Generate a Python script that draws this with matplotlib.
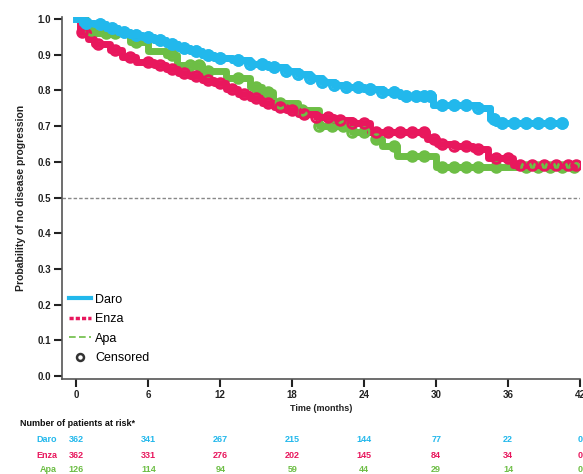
import numpy as np
import matplotlib
matplotlib.use('Agg')
import matplotlib.pyplot as plt
from matplotlib.lines import Line2D

plt.rcParams['font.family'] = ['Liberation Sans', 'DejaVu Sans']

# Kaplan-Meier step data
daro_t = [0, 0.5, 1.5, 2.5, 3.5, 4.5, 5.5, 6.5, 7.5, 8.5, 9.5, 10.5, 11.5, 13, 14.5, 16, 17.5,
          18.5, 19.5, 20.5, 21.5, 22.5, 24, 25.5, 27, 29.7, 33.5, 34.5, 35.0, 40.6]
daro_s = [1.0, 0.99, 0.985, 0.975, 0.965, 0.955, 0.95, 0.94, 0.93, 0.92, 0.91, 0.90, 0.89, 0.885,
          0.875, 0.865, 0.855, 0.845, 0.835, 0.825, 0.815, 0.81, 0.805, 0.795, 0.785, 0.76, 0.75,
          0.72, 0.71, 0.71]

enza_t = [0, 0.3, 1, 1.5, 2.8, 3.8, 5, 6.5, 7.5, 8.5, 9.5, 10.5, 11.5, 12.5, 13.5, 14.5, 15.5,
          16.5, 17.5, 18.5, 20, 21.5, 23, 24.5, 29.2, 30.1, 31.5, 33.1, 34.3, 36.4, 41.8]
enza_s = [1.0, 0.965, 0.945, 0.93, 0.913, 0.895, 0.88, 0.87, 0.86, 0.85, 0.84, 0.83, 0.82, 0.805,
          0.79, 0.78, 0.765, 0.755, 0.745, 0.735, 0.725, 0.717, 0.71, 0.685, 0.665, 0.65, 0.645,
          0.635, 0.61, 0.59, 0.59]

apa_t = [0, 0.8, 1.5, 4.5, 6, 7.5, 8.4, 10.5, 12.5, 14.5, 15.5, 16.4, 18.5, 20.2, 23, 24.8,
         25.5, 26.7, 30.0, 41.8]
apa_s = [1.0, 0.97, 0.96, 0.935, 0.91, 0.90, 0.87, 0.855, 0.835, 0.81, 0.795, 0.765, 0.745,
         0.70, 0.685, 0.665, 0.645, 0.615, 0.586, 0.586]

# censoring times (months)
daro_cens = [0.8, 2.0, 3.0, 4.0, 5.0, 6.0, 7.0, 8.0, 9.0, 10.0, 11.0, 12.0, 13.5, 14.5, 15.5,
             16.5, 17.5, 18.5, 19.5, 20.5, 21.5, 22.5, 23.5, 24.5, 25.5, 26.5, 27.5, 28.3,
             29.0, 29.5, 30.5, 31.5, 32.5, 33.5, 34.8, 35.5, 36.5, 37.5, 38.5, 39.5, 40.5]
enza_cens = [0.5, 1.8, 3.2, 4.5, 6.0, 7.0, 8.0, 9.0, 10.0, 11.0, 12.0, 13.0, 14.0, 15.0, 16.0,
             17.0, 18.0, 19.0, 20.0, 21.0, 22.0, 23.0, 24.0, 25.0, 26.0, 27.0, 28.0, 29.0,
             29.8, 30.5, 31.5, 32.5, 33.5, 35.0, 36.0, 37.0, 38.0, 39.0, 40.0, 41.0, 41.7]
apa_cens = [1.2, 2.5, 3.2, 5.0, 8.0, 9.5, 10.2, 11.0, 13.5, 15.0, 16.0, 17.0, 18.8, 20.2,
            21.3, 22.2, 23.0, 24.0, 25.0, 26.5, 28.0, 29.0, 30.5, 31.5, 32.5, 33.5, 35.0,
            37.5, 38.5, 39.5, 40.5, 41.5]

# number at risk
risk_times = [0, 6, 12, 18, 24, 30, 36, 42]
daro_risk = [362, 341, 267, 215, 144, 77, 22, 0]
enza_risk = [362, 331, 276, 202, 145, 84, 34, 0]
apa_risk = [126, 114, 94, 59, 44, 29, 14, 0]

blue = '#22B8EC'
red = '#E8175D'
green = '#6DBE45'

fig = plt.figure(figsize=(5.83, 4.74), dpi=100)
ax = fig.add_axes([0.1063, 0.2004, 0.8887, 0.7636])


def step_at(t, ts, ss):
    idx = np.searchsorted(ts, t, side='right') - 1
    return np.asarray(ss)[idx]


arms = [(daro_t, daro_s, daro_cens, blue),
        (enza_t, enza_s, enza_cens, red),
        (apa_t, apa_s, apa_cens, green)]
for ts, ss, cens, col in arms[::-1]:
    ax.step(ts, ss, where='post', color=col, lw=5, solid_capstyle='butt', zorder=3)
    cy = step_at(cens, ts, ss)
    ax.plot(cens, cy, 'o', ms=7, mfc='none', mec=col, mew=2, zorder=4)
# redraw daro on top
ax.step(daro_t, daro_s, where='post', color=blue, lw=5, zorder=5)
ax.plot(daro_cens, step_at(daro_cens, daro_t, daro_s), 'o', ms=7, mfc='none',
        mec=blue, mew=2, zorder=5)

ax.axhline(0.5, color='#888888', lw=1, ls=(0, (2.5, 1.5)), zorder=1)

ax.set_xlim(-1.2, 42)
ax.set_ylim(-0.0084, 1.0056)
ax.set_yticks(np.arange(0, 1.01, 0.1))
ax.set_yticklabels([f'{v:.1f}' for v in np.arange(0, 1.01, 0.1)])
ax.set_xticks(risk_times)
for s in ['top', 'right']:
    ax.spines[s].set_visible(False)
for s in ['left', 'bottom']:
    ax.spines[s].set_color('#555555')
    ax.spines[s].set_linewidth(1.2)
ax.tick_params(axis='both', length=6, width=1.5, color='#222222', labelsize=7, pad=2)
for lab in ax.get_xticklabels() + ax.get_yticklabels():
    lab.set_fontweight('bold')
    lab.set_color('#222222')

ax.set_xlabel('Time (months)', fontsize=6.5, fontweight='bold', labelpad=3, color='#222222')
ax.set_ylabel('Probability of no disease progression', fontsize=7.5, fontweight='bold',
              labelpad=8, color='#222222')

handles = [Line2D([], [], color=blue, lw=3),
           Line2D([], [], color=red, lw=2.5, ls=(0, (1.2, 0.6))),
           Line2D([], [], color=green, lw=1.2, ls=(0, (4, 2))),
           Line2D([], [], color='#333333', marker='o', ls='none', ms=5, mfc='none', mew=1.8)]
ax.legend(handles, ['Daro', 'Enza', 'Apa', 'Censored'], loc='lower left',
          bbox_to_anchor=(0.0, 0.02), frameon=False, fontsize=9, handlelength=1.7,
          handletextpad=0.35, labelspacing=0.6, borderaxespad=0.2)

# number at risk table
fig.text(20 / 583, 1 - 423 / 474, 'Number of patients at risk*', fontsize=6.5,
         fontweight='bold', ha='left', va='center', color='#111111')
rows = [('Daro', daro_risk, blue, 440), ('Enza', enza_risk, red, 455), ('Apa', apa_risk, green, 470)]
trans = matplotlib.transforms.blended_transform_factory(ax.transData, fig.transFigure)
for name, vals, col, ypix in rows:
    yf = 1 - ypix / 474
    fig.text(57 / 583, yf, name, fontsize=6.5, ha='right', va='center', color=col,
             fontweight='bold')
    for t, v in zip(risk_times, vals):
        ax.text(t, yf, str(v), transform=trans, fontsize=6.5, ha='center', va='center',
                color=col, fontweight='bold', clip_on=False)

fig.savefig('out.png', dpi=100)
